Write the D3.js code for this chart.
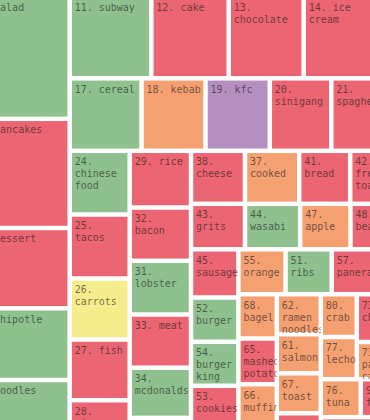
<!DOCTYPE html>
<html>
<head>
<meta charset="utf-8">
<script src="https://cdn.jsdelivr.net/npm/d3@7"></script>
<style>
  body { margin: 0; background: #fff; overflow: hidden; }
  svg { display: block; }
  .lbl { font-family: "DejaVu Sans Mono", monospace; font-size: 10px; fill: rgba(25, 25, 25, 0.62); }
</style>
</head>
<body>
<div id="chart"></div>
<script>

// --- Daten ------------------------------------------------------------------ //

var labels = [
    '1. salad', '2. pancakes', '3. dessert', '4. chipotle', '5. noodles',
    '11. subway', '12. cake', '13. chocolate', '14. ice cream',
    '17. cereal', '18. kebab', '19. kfc', '20. sinigang', '21. spaghetti',
    '24. chinese food', '25. tacos', '26. carrots', '27. fish', '28. pizza',
    '29. rice', '32. bacon', '31. lobster', '33. meat', '34. mcdonalds', '35. pasta',
    '38. cheese', '37. cooked', '41. bread', '42. french toast',
    '43. grits', '44. wasabi', '47. apple', '48. beans',
    '45. sausage', '52. burger', '54. burger king', '53. cookies',
    '55. orange', '51. ribs', '57. panera',
    '68. bagel', '65. mashed potato', '66. muffin',
    '62. ramen noodles', '61. salmon', '67. toast', '70. steak',
    '80. crab', '77. lechon', '73. chicken', '71. pancit canton',
    '76. tuna', '90. fries', '85. ham'
];

var values = [
    12120, 10778, 7926, 7077, 4343,
    6716, 6370, 6173, 5868,
    5206, 4640, 4662, 4459, 3168,
    3822, 3840, 3660, 3642, 1428,
    3476, 3267, 3292, 3261, 3077, 374,
    2862, 2873, 2703, 1314,
    2457, 2512, 2289, 1115,
    2285, 2100, 2086, 1811,
    2115, 2074, 1944,
    1701, 1755, 1528,
    1760, 1720, 1756, 475,
    1541, 1519, 870, 677,
    1520, 540, 369
];

// g = gruen, r = rot, o = orange, p = lila, y = gelb
var kinds = [
    'g', 'r', 'r', 'g', 'g',
    'g', 'r', 'r', 'r',
    'g', 'o', 'p', 'r', 'r',
    'g', 'r', 'y', 'r', 'r',
    'r', 'r', 'g', 'r', 'g', 'r',
    'r', 'o', 'r', 'r',
    'r', 'g', 'o', 'r',
    'r', 'g', 'g', 'r',
    'o', 'g', 'r',
    'o', 'r', 'o',
    'o', 'o', 'o', 'r',
    'o', 'o', 'r', 'o',
    'o', 'r', 'r'
];

var kindNames = ['g', 'r', 'o', 'p', 'y'];
var kindColors = ['#8fc18f', '#ec6572', '#f4a071', '#b58fc0', '#f5ec8b'];

// Streifen: h = nebeneinander, v = untereinander (Indizes in labels)
var strips = ['h', [
    ['v', [0, 1, 2, 3, 4]],
    ['v', [
        ['h', [5, 6, 7, 8]],
        ['h', [9, 10, 11, 12, 13]],
        ['h', [
            ['v', [14, 15, 16, 17, 18]],
            ['v', [19, 20, 21, 22, 23, 24]],
            ['v', [
                ['h', [25, 26, 27, 28]],
                ['h', [29, 30, 31, 32]],
                ['h', [
                    ['v', [33, 34, 35, 36]],
                    ['v', [
                        ['h', [37, 38, 39]],
                        ['h', [
                            ['v', [40, 41, 42]],
                            ['v', [43, 44, 45, 46]],
                            ['v', [
                                ['h', [['v', [47, 48]], ['v', [49, 50]]]],
                                ['h', [51, 52]],
                                ['h', [53]]
                            ]]
                        ]]
                    ]]
                ]]
            ]]
        ]]
    ]]
]];


// --- Hierarchie bauen ---------------------------------------------------------- //

function toNode(s) {
    if (typeof s === 'number') {
        return { i: s };
    }
    return { dir: s[0], children: s[1].map(toNode) };
}

function tile(node, x0, y0, x1, y1) {
    if (node.data.dir == 'h') {
        d3.treemapDice(node, x0, y0, x1, y1);
    } else {
        d3.treemapSlice(node, x0, y0, x1, y1);
    }
}


// --- Zeichnen -------------------------------------------------------------------- //

var width = 370;
var height = 420;
var offX = -29;
var offY = -4;
var gap = 2.25;
var charW = 6.02;
var lineH = 12;

var color = d3.scaleOrdinal().domain(kindNames).range(kindColors);

var root = d3.hierarchy(toNode(strips))
    .sum(function (d) { return d.children ? 0 : values[d.i]; });

d3.treemap()
    .size([404, 428])
    .tile(tile)
    .round(false)(root);

var svg = d3.select('#chart').append('svg')
    .attr('width', width)
    .attr('height', height);

svg.append('rect')
    .attr('width', width)
    .attr('height', height)
    .attr('fill', '#fff');

var defs = svg.append('defs');
var plot = svg.append('g')
    .attr('transform', 'translate(' + offX + ',' + offY + ')');

var leaves = root.leaves();

leaves.forEach(function (leaf) {
    var i = leaf.data.i;
    defs.append('clipPath')
        .attr('id', 'clip' + i)
        .append('rect')
        .attr('x', leaf.x0)
        .attr('y', leaf.y0)
        .attr('width', leaf.x1 - leaf.x0)
        .attr('height', leaf.y1 - leaf.y0);
});

var cells = plot.selectAll('g.cell')
    .data(leaves)
    .enter().append('g')
    .attr('class', 'cell');

cells.append('rect')
    .attr('x', function (d) { return d.x0 + gap; })
    .attr('y', function (d) { return d.y0 + gap; })
    .attr('width', function (d) { return Math.max(0, d.x1 - d.x0 - 2 * gap); })
    .attr('height', function (d) { return Math.max(0, d.y1 - d.y0 - 2 * gap); })
    .attr('fill', function (d) { return color(kinds[d.data.i]); });

// Zeilenumbruch wie in einem div
function wrap(text, w) {
    var avail = w - 8;
    var words = text.split(' ');
    var lines = [];
    var line = '';
    words.forEach(function (word) {
        var test = line ? line + ' ' + word : word;
        if (line && test.length * charW > avail) {
            lines.push(line);
            line = word;
        } else {
            line = test;
        }
    });
    if (line) { lines.push(line); }
    return lines;
}

cells.each(function (d) {
    var i = d.data.i;
    var lines = wrap(labels[i], d.x1 - d.x0);
    var t = d3.select(this).append('text')
        .attr('class', 'lbl')
        .attr('clip-path', 'url(#clip' + i + ')');
    lines.forEach(function (l, k) {
        t.append('tspan')
            .attr('x', d.x0 + 5)
            .attr('y', d.y0 + 14.5 + k * lineH)
            .text(l);
    });
});

</script>
</body>
</html>
